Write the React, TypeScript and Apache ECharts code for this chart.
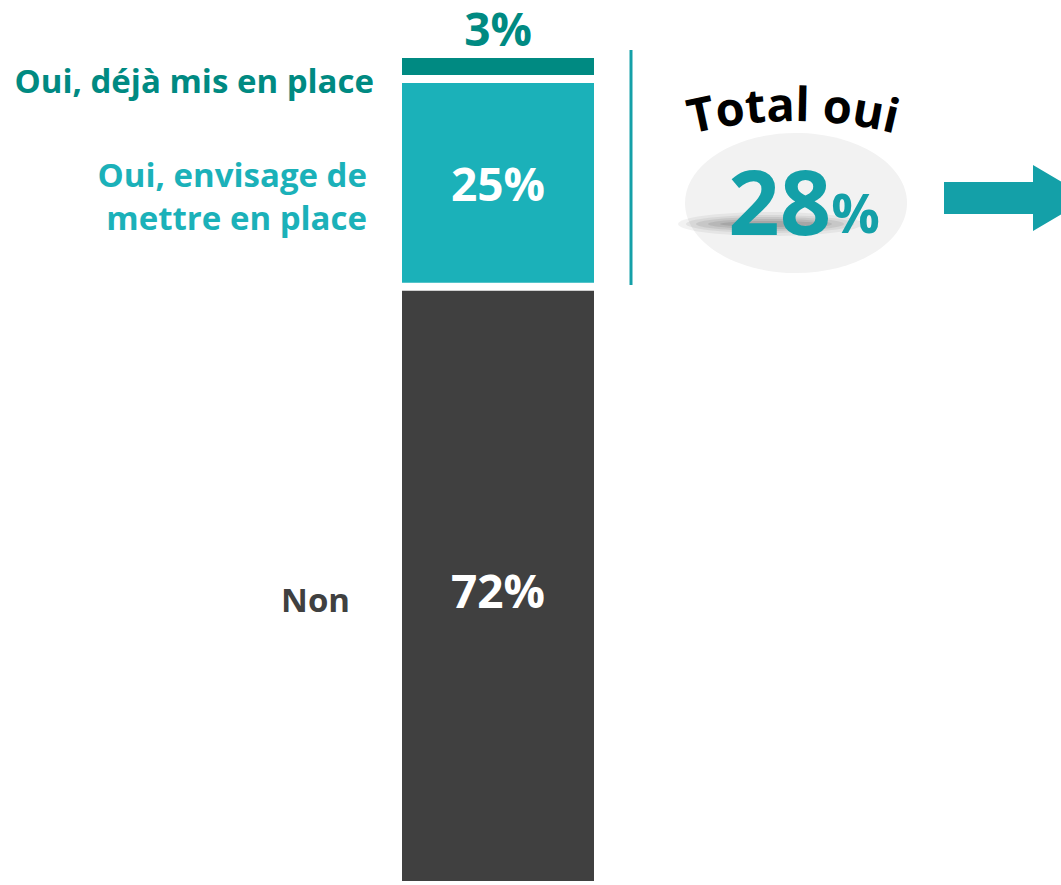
import React, { useEffect, useRef } from "react";
import * as echarts from "echarts";

const categories = ["Réponse"];
const seriesNames = ["Non", "Oui, envisage de mettre en place", "Oui, déjà mis en place"];
const nonValues = [72];
const envisageValues = [25];
const dejaValues = [3];
const totalOui = 28;

const FONT = "'Open Sans', 'Noto Sans', sans-serif";
const C_DARK = "#404040";
const C_MID = "#1BB1B9";
const C_DEEP = "#008A82";
const C_ACCENT = "#14A0A8";

function arcText(text: string, cx: number, cy: number, R: number, fontSize: number) {
  const canvas = document.createElement("canvas");
  const ctx = canvas.getContext("2d")!;
  ctx.font = `bold ${fontSize}px 'Open Sans'`;
  const widths = text.split("").map((ch) => ctx.measureText(ch).width);
  const total = widths.reduce((a, b) => a + b, 0);
  let s = -total / 2;
  const out: any[] = [];
  text.split("").forEach((ch, i) => {
    const mid = s + widths[i] / 2;
    s += widths[i];
    if (ch === " ") return;
    const phi = mid / R;
    const r = R + fontSize * 0.36;
    out.push({
      type: "text",
      x: cx + r * Math.sin(phi),
      y: cy - r * Math.cos(phi),
      rotation: -phi,
      style: {
        text: ch,
        x: 0,
        y: 0,
        align: "center",
        verticalAlign: "middle",
        fill: "#000",
        font: `bold ${fontSize}px ${FONT}`,
      },
      z: 10,
    });
  });
  return out;
}

function smear(cx: number, cy: number) {
  const layers = [
    [92, 12, 0.05],
    [84, 9, 0.06],
    [74, 7, 0.07],
    [62, 5, 0.08],
    [50, 3, 0.09],
  ];
  return layers.map(([rx, ry, a]) => ({
    type: "ellipse",
    shape: { cx, cy, rx, ry },
    style: { fill: `rgba(0,0,0,${a})` },
    z: 2,
  }));
}

export default function App() {
  const ref = useRef<HTMLDivElement>(null);
  useEffect(() => {
    if (!ref.current) return;
    const chart = echarts.init(ref.current, undefined, { renderer: "svg" });
    const labelBase = {
      show: true,
      fontFamily: FONT,
      fontWeight: "bold" as const,
      fontSize: 46,
      lineHeight: 34,
      formatter: "{c}%",
      textBorderWidth: 0,
    };
    const itemBorder = { borderColor: "#ffffff", borderWidth: 4 };
    const option: any = {
      animation: false,
      backgroundColor: "#ffffff",
      grid: { left: 398, width: 200, top: 54, height: 840 },
      xAxis: { type: "category", data: categories, show: false },
      yAxis: { type: "value", min: 0, max: 100, show: false },
      series: [
        {
          name: seriesNames[0],
          type: "bar",
          stack: "total",
          barWidth: 200,
          clip: false,
          data: nonValues,
          itemStyle: { color: C_DARK, ...itemBorder },
          label: { ...labelBase, position: "inside", color: "#fff", offset: [0, 4] },
        },
        {
          name: seriesNames[1],
          type: "bar",
          stack: "total",
          barWidth: 200,
          clip: false,
          data: envisageValues,
          itemStyle: { color: C_MID, ...itemBorder },
          label: { ...labelBase, position: "inside", color: "#fff" },
        },
        {
          name: seriesNames[2],
          type: "bar",
          stack: "total",
          barWidth: 200,
          clip: false,
          data: dejaValues,
          itemStyle: { color: C_DEEP, ...itemBorder },
          label: { ...labelBase, position: "top", color: C_DEEP, distance: 9 },
        },
      ],
      graphic: [
        {
          type: "text",
          x: 374,
          y: 80,
          style: { text: "Oui, déjà mis en place", align: "right", verticalAlign: "middle", fill: C_DEEP, font: `bold 33px ${FONT}` },
        },
        {
          type: "text",
          x: 367,
          y: 196,
          style: {
            text: "Oui, envisage de\nmettre en place",
            align: "right",
            verticalAlign: "middle",
            fill: C_MID,
            font: `bold 33px ${FONT}`,
            lineHeight: 43,
          },
        },
        {
          type: "text",
          x: 350,
          y: 599,
          style: { text: "Non", align: "right", verticalAlign: "middle", fill: C_DARK, font: `bold 33px ${FONT}` },
        },
        {
          type: "line",
          shape: { x1: 631, y1: 50, x2: 631, y2: 285 },
          style: { stroke: C_ACCENT, lineWidth: 3 },
        },
        {
          type: "ellipse",
          shape: { cx: 796, cy: 203, rx: 111, ry: 70 },
          style: { fill: "#F2F2F2" },
          z: 1,
        },
        ...smear(770, 224),
        {
          type: "text",
          x: 804,
          y: 200,
          style: {
            text: `{big|${totalOui}}{pct|%}`,
            rich: {
              big: { fontFamily: FONT, fontWeight: "bold", fontSize: 90, fill: C_ACCENT, verticalAlign: "bottom" },
              pct: { fontFamily: FONT, fontWeight: "bold", fontSize: 54, fill: C_ACCENT, verticalAlign: "bottom", padding: [0, 0, 6, 0] },
            },
            fill: C_ACCENT,
            align: "center",
            verticalAlign: "middle",
          },
          z: 3,
        },
        ...arcText("Total oui", 793, 540, 420, 47),
        {
          type: "polygon",
          shape: {
            points: [
              [944, 182],
              [1033, 182],
              [1033, 165],
              [1089, 198],
              [1033, 231],
              [1033, 214],
              [944, 214],
            ],
          },
          style: { fill: C_ACCENT },
        },
      ],
    };
    chart.setOption(option);
    return () => chart.dispose();
  }, []);
  return <div ref={ref} style={{ position: "fixed", left: 0, top: 0, width: 1061, height: 885 }} />;
}
